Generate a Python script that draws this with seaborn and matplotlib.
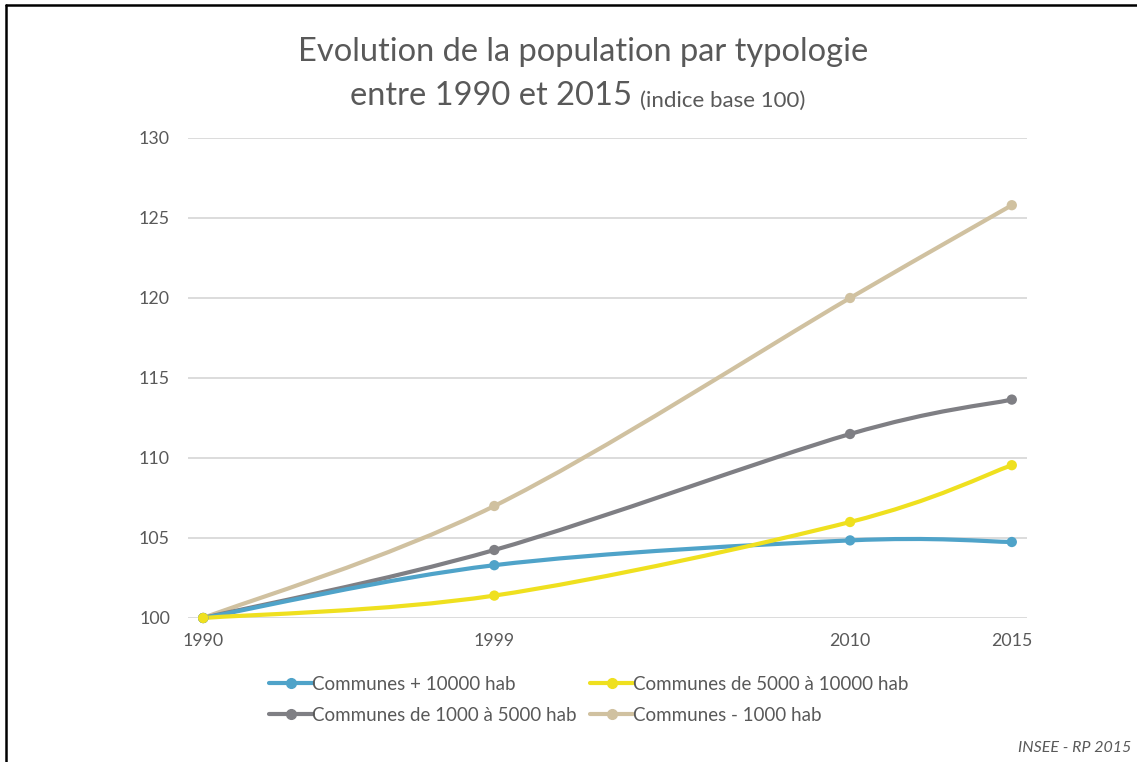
import numpy as np
import pandas as pd
import matplotlib.pyplot as plt
import seaborn as sns
from matplotlib.path import Path
from matplotlib.patches import PathPatch
from matplotlib.lines import Line2D

annees = [1990, 1999, 2010, 2015]
plus_10000 = [100, 103.3, 104.85, 104.75]
de_5000_a_10000 = [100, 101.4, 106.0, 109.55]
de_1000_a_5000 = [100, 104.25, 111.5, 113.65]
moins_1000 = [100, 107.0, 120.0, 125.8]

series = {
    "Communes + 10000 hab": plus_10000,
    "Communes de 5000 à 10000 hab": de_5000_a_10000,
    "Communes de 1000 à 5000 hab": de_1000_a_5000,
    "Communes - 1000 hab": moins_1000,
}
couleurs = {
    "Communes + 10000 hab": "#4fa3c9",
    "Communes de 5000 à 10000 hab": "#efe01f",
    "Communes de 1000 à 5000 hab": "#7f7f84",
    "Communes - 1000 hab": "#d0c1a0",
}
ordre_legende = [
    "Communes + 10000 hab",
    "Communes de 1000 à 5000 hab",
    "Communes de 5000 à 10000 hab",
    "Communes - 1000 hab",
]
ordre_trace = [
    "Communes - 1000 hab",
    "Communes de 1000 à 5000 hab",
    "Communes + 10000 hab",
    "Communes de 5000 à 10000 hab",
]

df = pd.DataFrame(
    [(a, nom, v) for nom, vals in series.items() for a, v in zip(annees, vals)],
    columns=["annee", "typologie", "indice"],
)


def courbe_lissee(x, y):
    # courbe de Bezier type Catmull-Rom (lissage facon tableur)
    pts = np.column_stack([x, y]).astype(float)
    n = len(pts)
    verts = [pts[0]]
    codes = [Path.MOVETO]
    for i in range(n - 1):
        p0 = pts[i - 1] if i > 0 else pts[i]
        p1 = pts[i]
        p2 = pts[i + 1]
        p3 = pts[i + 2] if i + 2 < n else pts[i + 1]
        c1 = p1 + (p2 - p0) / 6
        c2 = p2 - (p3 - p1) / 6
        verts += [c1, c2, p2]
        codes += [Path.CURVE4] * 3
    return Path(verts, codes)


sns.set_theme(style="white")
plt.rcParams["font.family"] = ["Lato", "DejaVu Sans"]
gris = "#595959"

fig = plt.figure(figsize=(11.37, 7.62), dpi=100)
ax = fig.add_axes([188 / 1137, 144 / 762, 839 / 1137, 480 / 762])

for v in [100, 105, 110, 115, 120, 125, 130]:
    ax.axhline(v, color="#d9d9d9", lw=1.3, zorder=0)

for nom in ordre_trace:
    sub = df[df["typologie"] == nom]
    ax.add_patch(PathPatch(courbe_lissee(sub["annee"], sub["indice"]),
                           facecolor="none", edgecolor=couleurs[nom],
                           lw=3.0, capstyle="round", zorder=2, clip_on=False))
    sns.scatterplot(data=sub, x="annee", y="indice", color=couleurs[nom],
                    s=55, edgecolor="none", ax=ax, zorder=3, clip_on=False,
                    legend=False)

ax.set_xlim(1989.53, 2015.47)
ax.set_ylim(100, 130)
ax.set_xticks(annees)
ax.set_yticks([100, 105, 110, 115, 120, 125, 130])
ax.set_xlabel("")
ax.set_ylabel("")
for s in ax.spines.values():
    s.set_visible(False)
ax.tick_params(axis="both", length=0, labelsize=12.8, labelcolor=gris)
ax.tick_params(axis="y", pad=13)
ax.tick_params(axis="x", pad=11)

poignees = [Line2D([], [], color=couleurs[n], lw=3.0, marker="o", markersize=7)
            for n in ordre_legende]
fig.legend(poignees, ordre_legende, ncol=2, loc="center",
           bbox_to_anchor=(589 / 1137, 1 - 700 / 762), frameon=False,
           fontsize=13.5, labelcolor=gris, handlelength=2.3, handletextpad=0.0,
           columnspacing=0.7, labelspacing=0.75)

fig.text(583 / 1137, 1 - 52 / 762, "Evolution de la population par typologie",
         ha="center", va="center", fontsize=23.5, color=gris)
t1 = fig.text(350 / 1137, 1 - 105 / 762, "entre 1990 et 2015", ha="left",
              va="baseline", fontsize=23.5, color=gris)
ax.annotate("(indice base 100)", xy=(1, 0), xycoords=t1,
            xytext=(6, 0), textcoords="offset points", ha="left",
            va="bottom", fontsize=16, color=gris, annotation_clip=False)

fig.text(1131 / 1137, 1 - 748 / 762, "INSEE - RP 2015", ha="right",
         va="center", fontsize=11.5, style="italic", color=gris)

# cadre noir
fig.add_artist(Line2D([6 / 1137, 6 / 1137], [0, 1 - 5 / 762], color="black",
                      lw=1.8, transform=fig.transFigure))
fig.add_artist(Line2D([6 / 1137, 1], [1 - 5 / 762, 1 - 5 / 762],
                      color="black", lw=1.8, transform=fig.transFigure))

fig.savefig("out.png", dpi=100)
